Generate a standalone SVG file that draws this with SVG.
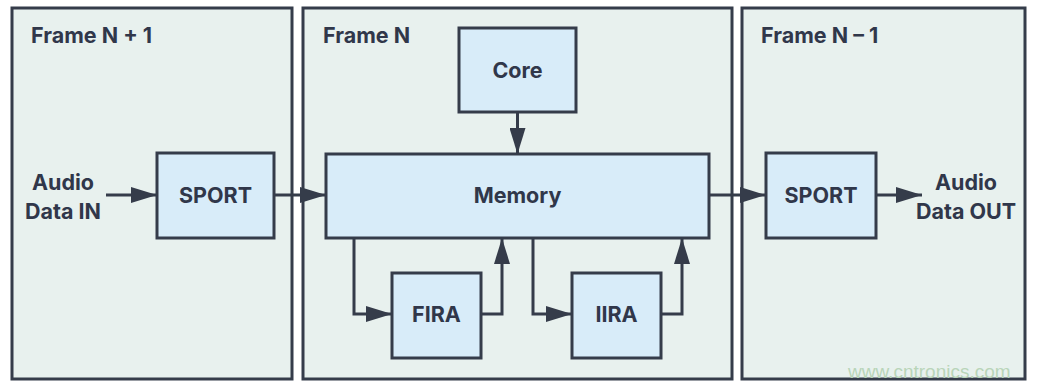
<svg xmlns="http://www.w3.org/2000/svg" width="1038" height="386" viewBox="0 0 1038 386">
<defs>
<style>
.frame{fill:#e8f1ee;stroke:#353c4a;stroke-width:3}
.box{fill:#d8ecf9;stroke:#353c4a;stroke-width:3}
.t{font-family:Inter,Roboto,"Liberation Sans",sans-serif;font-weight:bold;fill:#30374a;font-size:21.5px}
.c{text-anchor:middle}
.w{stroke:#353c4a;stroke-width:3;fill:none}
.wm{font-family:"Liberation Sans",Arial,sans-serif;font-size:19px;fill:#b9d5b9}
</style>
<marker id="ah" markerWidth="26" markerHeight="16" refX="26" refY="8" orient="auto" markerUnits="userSpaceOnUse">
<path d="M0,0 L26,8 L0,16 Z" fill="#353c4a"/>
</marker>
</defs>
<rect width="1038" height="386" fill="#ffffff"/>
<g id="frame-n-plus-1">
<rect class="frame" x="12" y="8" width="280" height="371"/>
<text class="t" x="31" y="43">Frame N + 1</text>
</g>
<g id="frame-n">
<rect class="frame" x="303" y="8" width="429" height="371"/>
<text class="t" x="323" y="43">Frame N</text>
</g>
<g id="frame-n-minus-1">
<rect class="frame" x="742" y="8" width="283" height="371"/>
<text class="t" x="761" y="43">Frame N – 1</text>
</g>
<g id="audio-in">
<text class="t c" x="63" y="190">Audio</text>
<text class="t c" x="63" y="219">Data IN</text>
</g>
<g id="sport-in">
<rect class="box" x="157" y="153" width="117" height="85"/>
<text class="t c" x="215.5" y="203">SPORT</text>
</g>
<g id="core">
<rect class="box" x="459" y="28" width="117" height="84"/>
<text class="t c" x="517.5" y="78">Core</text>
</g>
<g id="memory">
<rect class="box" x="326" y="154" width="383" height="84"/>
<text class="t c" x="517.5" y="203">Memory</text>
</g>
<g id="fira">
<rect class="box" x="392" y="273" width="89" height="85"/>
<text class="t c" x="436.5" y="322">FIRA</text>
</g>
<g id="iira">
<rect class="box" x="572" y="273" width="89" height="85"/>
<text class="t c" x="616.5" y="322">IIRA</text>
</g>
<g id="sport-out">
<rect class="box" x="766" y="153" width="110" height="85"/>
<text class="t c" x="821" y="203">SPORT</text>
</g>
<g id="audio-out">
<text class="t c" x="966" y="190">Audio</text>
<text class="t c" x="966" y="219">Data OUT</text>
</g>
<g id="connectors">
<line class="w" x1="106" y1="195" x2="157" y2="195" marker-end="url(#ah)"/>
<line class="w" x1="274" y1="195" x2="326" y2="195" marker-end="url(#ah)"/>
<line class="w" x1="709" y1="195" x2="766" y2="195" marker-end="url(#ah)"/>
<line class="w" x1="876" y1="195" x2="922" y2="195" marker-end="url(#ah)"/>
<line class="w" x1="517.5" y1="112" x2="517.5" y2="154" marker-end="url(#ah)"/>
<polyline class="w" points="354,238 354,314 392,314" marker-end="url(#ah)"/>
<polyline class="w" points="481,314 502,314 502,238" marker-end="url(#ah)"/>
<polyline class="w" points="533,238 533,314 572,314" marker-end="url(#ah)"/>
<polyline class="w" points="661,314 682,314 682,238" marker-end="url(#ah)"/>
</g>
<text class="wm" x="848" y="378">www.cntronics.com</text>
</svg>
